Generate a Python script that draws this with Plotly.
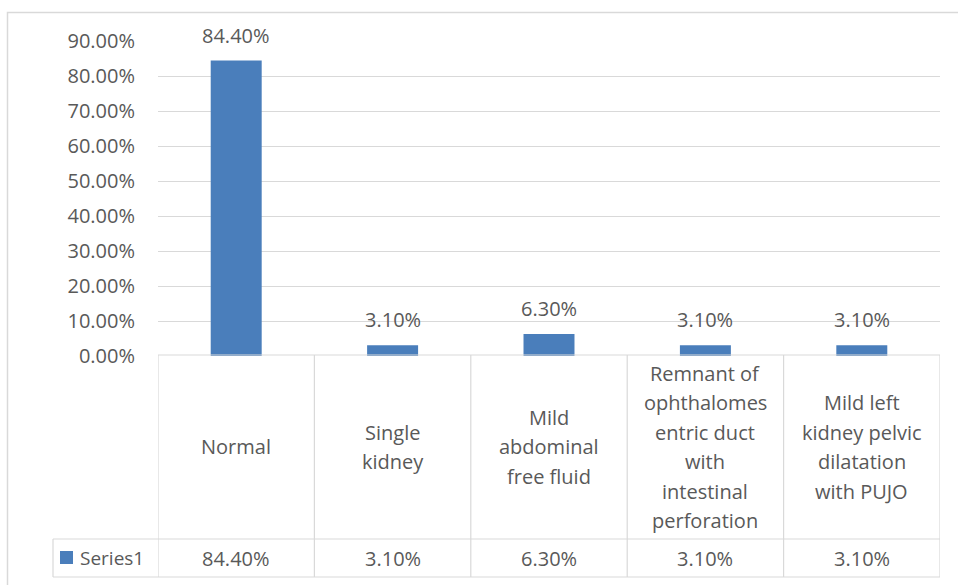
import plotly.graph_objects as go

# Findings by category (share of patients)
categories = [
    "Normal",
    "Single<br>kidney",
    "Mild<br>abdominal<br>free fluid",
    "Remnant of<br>ophthalomes<br>entric duct<br>with<br>intestinal<br>perforation",
    "Mild left<br>kidney pelvic<br>dilatation<br>with PUJO",
]
values = [0.844, 0.031, 0.063, 0.031, 0.031]
series_name = "Series1"
y_ticks = [0, 0.1, 0.2, 0.3, 0.4, 0.5, 0.6, 0.7, 0.8, 0.9]

W, H = 958, 585
PLOT_L, PLOT_R, PLOT_T, PLOT_B = 158, 940, 41, 356
LINE_STEP = 29.4  # vertical spacing of wrapped category lines, px

BAR_COLOR = "#4a7ebb"
GRID = "#d9d9d9"
TEXT = "#595959"
FONT = "Open Sans"
FS = 20


def px_x(p):
    return (p - PLOT_L) / (PLOT_R - PLOT_L)


def px_y(p):
    return (PLOT_B - p) / (PLOT_B - PLOT_T)


def pct(v):
    return f"{v * 100:.2f}%"


x_idx = list(range(len(categories)))

fig = go.Figure(
    go.Bar(
        x=x_idx,
        y=values,
        marker=dict(color=BAR_COLOR, line=dict(width=0)),
        name=series_name,
        showlegend=False,
    )
)

shapes = []
annotations = []

# outer chart border
shapes.append(dict(type="rect", xref="paper", yref="paper",
                   x0=px_x(7.5), x1=px_x(962), y0=px_y(590), y1=px_y(12.5),
                   line=dict(color=GRID, width=1.5), layer="below"))

# data table grid
line = dict(color=GRID, width=1.2)
shapes.append(dict(type="line", xref="paper", yref="paper",
                   x0=0, x1=1, y0=px_y(355), y1=px_y(355), line=line))
for yy in (539, 577):
    shapes.append(dict(type="line", xref="paper", yref="paper",
                       x0=px_x(53), x1=1, y0=px_y(yy), y1=px_y(yy), line=line))
for i in range(len(categories) + 1):
    shapes.append(dict(type="line", xref="x", yref="paper",
                       x0=i - 0.5, x1=i - 0.5, y0=px_y(355), y1=px_y(577), line=line))
shapes.append(dict(type="line", xref="paper", yref="paper",
                   x0=px_x(53), x1=px_x(53), y0=px_y(539), y1=px_y(577), line=line))

# legend key in the table
shapes.append(dict(type="rect", xref="paper", yref="paper",
                   x0=px_x(60), x1=px_x(73), y0=px_y(564), y1=px_y(551),
                   fillcolor=BAR_COLOR, line=dict(width=0)))
annotations.append(dict(xref="paper", yref="paper", x=px_x(78), y=px_y(558),
                        text=series_name, showarrow=False, xanchor="left",
                        yanchor="middle", font=dict(family=FONT, size=FS - 1, color=TEXT)))

CELL_MID = 447
for i, (cat, v) in enumerate(zip(categories, values)):
    # data label above each bar
    annotations.append(dict(xref="x", yref="y", x=i, y=v, text=pct(v),
                            showarrow=False, yanchor="bottom", yshift=10,
                            font=dict(family=FONT, size=FS, color=TEXT)))
    # category cell, one annotation per wrapped line
    lines = cat.split("<br>")
    n = len(lines)
    for k, txt in enumerate(lines):
        yy = CELL_MID + (k - (n - 1) / 2) * LINE_STEP
        annotations.append(dict(xref="x", yref="paper", x=i, y=px_y(yy), text=txt,
                                showarrow=False, yanchor="middle", align="center",
                                font=dict(family=FONT, size=FS, color=TEXT)))
    # value cell
    annotations.append(dict(xref="x", yref="paper", x=i, y=px_y(558), text=pct(v),
                            showarrow=False, yanchor="middle",
                            font=dict(family=FONT, size=FS, color=TEXT)))

fig.update_layout(
    width=W,
    height=H,
    margin=dict(l=PLOT_L, r=W - PLOT_R, t=PLOT_T, b=H - PLOT_B, pad=0),
    paper_bgcolor="white",
    plot_bgcolor="white",
    bargap=0.674,
    shapes=shapes,
    annotations=annotations,
    font=dict(family=FONT, size=FS, color=TEXT),
    xaxis=dict(range=[-0.5, len(categories) - 0.5], showticklabels=False,
               showgrid=False, zeroline=False, showline=False, ticks=""),
    yaxis=dict(range=[0, 0.9], tickvals=y_ticks,
               ticktext=[pct(t) for t in y_ticks],
               showgrid=True, gridcolor=GRID, gridwidth=1.2,
               zeroline=False, showline=False, ticks="",
               ticklabelstandoff=22,
               tickfont=dict(family=FONT, size=FS, color=TEXT)),
)

fig.write_html("out.html")
